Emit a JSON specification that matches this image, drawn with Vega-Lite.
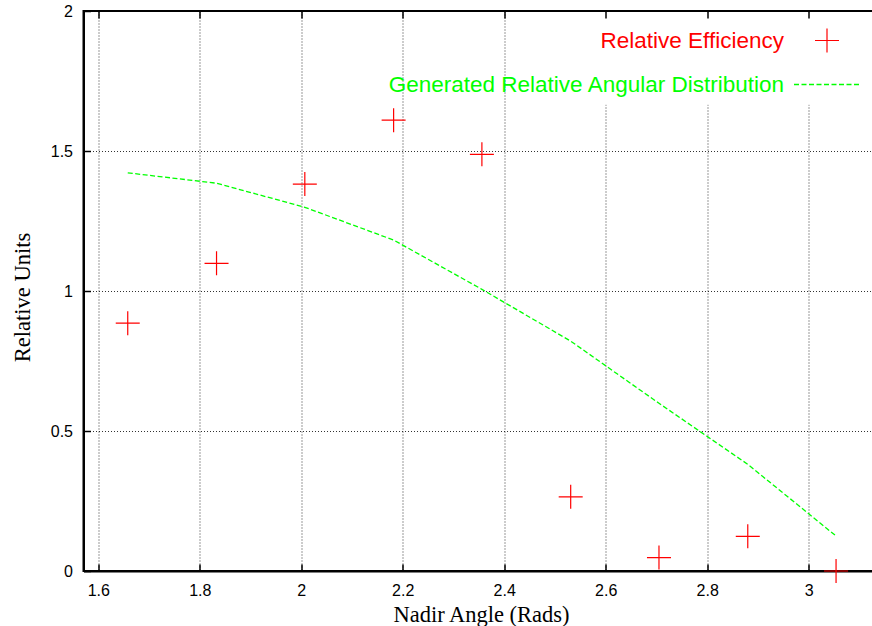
{
  "$schema": "https://vega.github.io/schema/vega-lite/v6.json",
  "width": 790,
  "height": 560,
  "autosize": {"type": "none"},
  "padding": {"left": 83.5, "top": 11, "right": 0, "bottom": 55},
  "background": "white",
  "config": {"view": {"stroke": "#000000", "strokeWidth": 2}, "font": "Liberation Sans"},
  "datasets": {
    "eff": [
      {"angle": 1.658, "value": 0.885, "series": "Relative Efficiency"},
      {"angle": 1.833, "value": 1.099, "series": "Relative Efficiency"},
      {"angle": 2.007, "value": 1.382, "series": "Relative Efficiency"},
      {"angle": 2.182, "value": 1.610, "series": "Relative Efficiency"},
      {"angle": 2.356, "value": 1.488, "series": "Relative Efficiency"},
      {"angle": 2.531, "value": 0.265, "series": "Relative Efficiency"},
      {"angle": 2.705, "value": 0.048, "series": "Relative Efficiency"},
      {"angle": 2.880, "value": 0.124, "series": "Relative Efficiency"},
      {"angle": 3.054, "value": 0.0, "series": "Relative Efficiency"}
    ],
    "dist": [
      {"angle": 1.658, "value": 1.422, "series": "Generated Relative Angular Distribution"},
      {"angle": 1.833, "value": 1.385, "series": "Generated Relative Angular Distribution"},
      {"angle": 2.007, "value": 1.299, "series": "Generated Relative Angular Distribution"},
      {"angle": 2.182, "value": 1.182, "series": "Generated Relative Angular Distribution"},
      {"angle": 2.356, "value": 1.006, "series": "Generated Relative Angular Distribution"},
      {"angle": 2.531, "value": 0.821, "series": "Generated Relative Angular Distribution"},
      {"angle": 2.705, "value": 0.599, "series": "Generated Relative Angular Distribution"},
      {"angle": 2.880, "value": 0.381, "series": "Generated Relative Angular Distribution"},
      {"angle": 3.054, "value": 0.125, "series": "Generated Relative Angular Distribution"}
    ],
    "keybox": [{"key": "legend area"}]
  },
  "layer": [
    {
      "data": {"name": "dist"},
      "mark": {"type": "line", "strokeDash": [5, 2.5], "strokeWidth": 1.3},
      "encoding": {
        "x": {
          "field": "angle",
          "type": "quantitative",
          "scale": {"domain": [1.5708, 3.1278], "nice": false, "zero": false},
          "axis": {
            "orient": "bottom",
            "values": [1.6, 1.8, 2, 2.2, 2.4, 2.6, 2.8, 3],
            "format": "~g",
            "grid": true,
            "gridColor": "#000000",
            "gridDash": [1, 2],
            "gridWidth": 1,
            "gridOpacity": 0.8,
            "ticks": true,
            "tickSize": -7,
            "tickWidth": 1.5,
            "tickColor": "#000000",
            "domainColor": "#000000",
            "domainWidth": 2,
            "labelFont": "Liberation Sans",
            "labelFontSize": 16,
            "labelColor": "#000000",
            "labelPadding": 18,
            "labelFlush": false,
            "labelOverlap": false,
            "title": "Nadir Angle (Rads)",
            "titleFont": "Liberation Serif",
            "titleFontSize": 22.5,
            "titleFontWeight": "normal",
            "titleColor": "#000000",
            "titleX": 397.5,
            "titleY": 50,
            "titleAlign": "center",
            "titleBaseline": "alphabetic",
            "zindex": 0
          }
        },
        "y": {
          "field": "value",
          "type": "quantitative",
          "scale": {"domain": [0, 2], "nice": false, "zero": true},
          "axis": {
            "orient": "left",
            "values": [0, 0.5, 1, 1.5, 2],
            "format": "~g",
            "grid": true,
            "gridColor": "#000000",
            "gridDash": [1, 2],
            "gridWidth": 1,
            "gridOpacity": 0.8,
            "ticks": true,
            "tickSize": -7,
            "tickWidth": 1.5,
            "tickColor": "#000000",
            "domainColor": "#000000",
            "domainWidth": 2,
            "labelFont": "Liberation Sans",
            "labelFontSize": 16,
            "labelColor": "#000000",
            "labelPadding": 18,
            "labelFlush": false,
            "labelOverlap": false,
            "labelBound": false,
            "title": "Relative Units",
            "titleFont": "Liberation Serif",
            "titleFontSize": 22.5,
            "titleFontWeight": "normal",
            "titleColor": "#000000",
            "titleAngle": -90,
            "titleX": -54,
            "titleY": 286,
            "titleAlign": "center",
            "titleBaseline": "alphabetic",
            "zindex": 0
          }
        },
        "stroke": {
          "field": "series",
          "type": "nominal",
          "scale": {"domain": ["Generated Relative Angular Distribution"], "range": ["#00ff00"]},
          "legend": {
            "orient": "none",
            "legendX": 709.5,
            "legendY": 39,
            "title": null,
            "padding": 0,
            "symbolType": "stroke",
            "symbolSize": 4489,
            "symbolStrokeWidth": 1.3,
            "symbolDash": [5, 2.5],
            "symbolStrokeColor": "#00ff00",
            "labelAlign": "right",
            "labelBaseline": "middle",
            "labelOffset": -78,
            "labelLimit": 0,
            "labelFont": "Liberation Sans",
            "labelFontSize": 22.5,
            "labelColor": "#00ff00"
          }
        }
      }
    },
    {
      "data": {"name": "keybox"},
      "mark": {"type": "rect", "fill": "#ffffff", "opacity": 1},
      "encoding": {
        "x": {
          "datum": 2.5,
          "type": "quantitative",
          "axis": {
            "orient": "top",
            "values": [1.6, 1.8, 2, 2.2, 2.4, 2.6, 2.8, 3],
            "labels": false,
            "title": null,
            "grid": false,
            "ticks": true,
            "tickSize": -7,
            "tickWidth": 1.5,
            "tickColor": "#000000",
            "domain": false,
            "zindex": 1
          }
        },
        "x2": {"datum": 3.1278},
        "y": {"datum": 1.665, "type": "quantitative", "axis": null},
        "y2": {"datum": 1.995}
      }
    },
    {
      "data": {"name": "eff"},
      "mark": {
        "type": "point",
        "shape": "M-1,0L1,0M0,-1L0,1",
        "size": 576,
        "filled": false,
        "strokeWidth": 1.2,
        "opacity": 1
      },
      "encoding": {
        "x": {"field": "angle", "type": "quantitative", "axis": null},
        "y": {"field": "value", "type": "quantitative", "axis": null},
        "color": {
          "field": "series",
          "type": "nominal",
          "scale": {"domain": ["Relative Efficiency"], "range": ["#ff0000"]},
          "legend": {
            "orient": "none",
            "legendX": 730.5,
            "legendY": 16.5,
            "title": null,
            "padding": 0,
            "symbolType": "M-1,0L1,0M0,-1L0,1",
            "symbolSize": 576,
            "symbolStrokeWidth": 1.2,
            "symbolFillColor": "transparent",
            "symbolStrokeColor": "#ff0000",
            "labelAlign": "right",
            "labelBaseline": "middle",
            "labelOffset": -56,
            "labelLimit": 0,
            "labelFont": "Liberation Sans",
            "labelFontSize": 22.5,
            "labelColor": "#ff0000"
          }
        }
      }
    }
  ],
  "resolve": {"axis": {"x": "independent", "y": "independent"}}
}
